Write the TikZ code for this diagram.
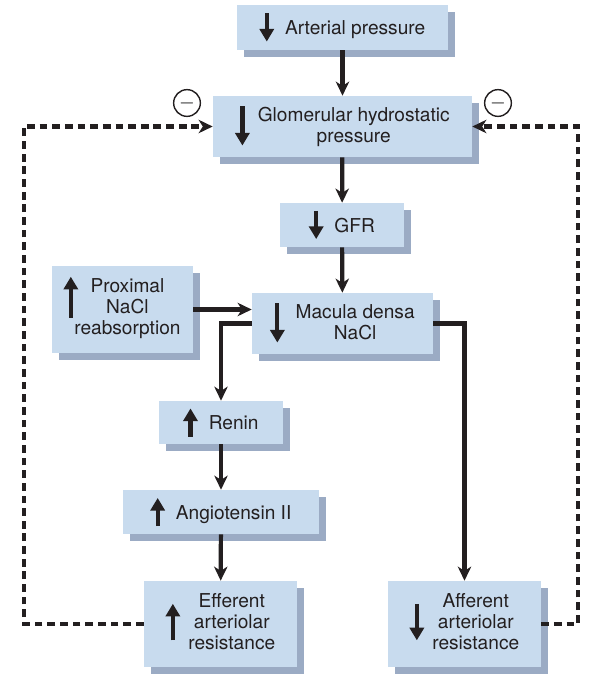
\documentclass[tikz,border=0pt]{standalone}
\usepackage{fontspec}
\setmainfont{TeX Gyre Heros}
\usetikzlibrary{arrows.meta,shadows}
\definecolor{boxblue}{HTML}{C8DBEE}
\definecolor{boxshade}{HTML}{9BABC4}
\definecolor{ink}{HTML}{231F20}
\tikzset{
  glyph/.style={line width=3pt, draw=ink, -{Triangle[length=9pt,width=10pt]}},
  box/.style={fill=boxblue, text=ink, inner sep=0pt, align=center,
    general shadow={fill=boxshade, shadow xshift=5pt, shadow yshift=-5pt}},
  flow/.style={line width=3pt, draw=ink, -{Stealth[length=10pt,width=9.5pt,inset=3pt]}},
  fb/.style={flow, dash pattern=on 5.5pt off 3.5pt},
  minus/.style={circle, draw=ink, line width=1pt, minimum size=19pt, inner sep=0pt}
}
% little up/down arrows in front of the texts
\newcommand{\gdn}[1]{\tikz[baseline=-0.7ex]\draw[glyph] (0pt,#1) -- (0pt,-#1);}
\newcommand{\gup}[1]{\tikz[baseline=-0.7ex]\draw[glyph] (0pt,-#1) -- (0pt,#1);}
\newcommand{\lines}[1]{\begin{tabular}{@{}c@{}}#1\end{tabular}}
\begin{document}
\begin{tikzpicture}[x=0.025cm,y=-0.025cm,font=\fontsize{13.6}{15}\selectfont]
\useasboundingbox (0,0) rectangle (600,678);
\node[box, minimum width=5.275cm, minimum height=1.125cm] (art) at (342.5,27.5) {\gdn{10pt}\hspace{8pt}Arterial pressure};
\node[box, minimum width=6.475cm, minimum height=1.525cm] (glom) at (342.5,126.5) {\gdn{14pt}\hspace{6pt}\lines{Glomerular hydrostatic\\pressure}};
\node[box, minimum width=3.1cm, minimum height=1.1cm] (gfr) at (342,225) {\gdn{10pt}\hspace{8pt}GFR};
\node[box, minimum width=3.525cm, minimum height=2.175cm] (prox) at (122.5,309.5) {\hspace{7pt}\lines{\llap{\smash{\tikz[baseline=0pt]\draw[glyph] (0pt,-18pt) -- (0pt,11.3pt);}\hspace{9pt}}Proximal\\NaCl\\reabsorption}};
\node[box, minimum width=4.525cm, minimum height=1.525cm] (mac) at (342.5,323.5) {\gdn{14pt}\hspace{8pt}\lines{Macula densa\\NaCl}};
\node[box, minimum width=3.1cm, minimum height=1.075cm] (renin) at (221,422.5) {\gup{10pt}\hspace{8pt}Renin};
\node[box, minimum width=4.9cm, minimum height=1.1cm] (ang) at (221,512) {\gup{10pt}\hspace{8pt}Angiotensin II};
\node[box, minimum width=3.825cm, minimum height=2.15cm] (eff) at (220.5,624) {\gup{13pt}\hspace{6pt}\lines{Efferent\\arteriolar\\resistance}};
\node[box, minimum width=3.825cm, minimum height=2.15cm] (aff) at (464.5,624) {\gdn{13pt}\hspace{6pt}\lines{Afferent\\arteriolar\\resistance}};
\node[minus] (mL) at (187,103) {$-$};
\node[minus] (mR) at (498,103) {$-$};
\coordinate (lx) at (24,0);
\coordinate (rx) at (578,0);
\draw[flow] (art) -- (glom);
\draw[flow] (glom) -- (gfr);
\draw[flow] (gfr) -- (mac);
\draw[flow] (prox.east) -- (prox.east -| mac.west);
\draw[flow] (mac.west) -| (renin.north);
\draw[flow] (mac.east) -| (aff.north);
\draw[flow] (renin) -- (ang);
\draw[flow] (ang) -- (eff);
\draw[fb] (eff.west) -- (eff.west -| lx) |- (glom.west);
\draw[fb] (aff.east) -- (aff.east -| rx) |- (glom.east);
\end{tikzpicture}
\end{document}
